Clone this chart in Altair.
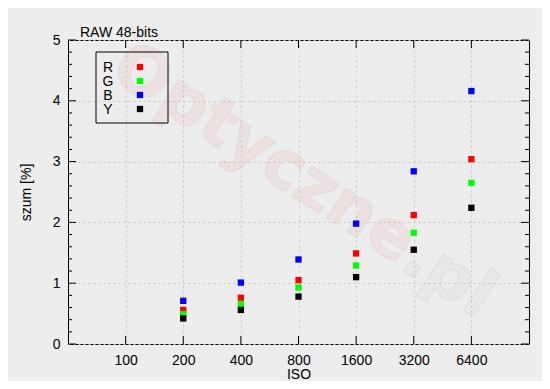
import altair as alt
import pandas as pd

# ---- data ----
iso = [200, 400, 800, 1600, 3200, 6400]
r_vals = [0.56, 0.76, 1.05, 1.49, 2.12, 3.04]
g_vals = [0.49, 0.66, 0.93, 1.29, 1.83, 2.65]
b_vals = [0.71, 1.01, 1.39, 1.98, 2.84, 4.16]
y_vals = [0.42, 0.56, 0.78, 1.10, 1.55, 2.24]
series = ["R", "G", "B", "Y"]
colors = ["#ff0000", "#00ff00", "#0000ff", "#000000"]
iso_ticks = [100, 200, 400, 800, 1600, 3200, 6400]
y_major = [0, 1, 2, 3, 4, 5]
y_minor = [0.2, 0.4, 0.6, 0.8, 1.2, 1.4, 1.6, 1.8, 2.2, 2.4, 2.6, 2.8,
           3.2, 3.4, 3.6, 3.8, 4.2, 4.4, 4.6, 4.8]
watermark = ["Optyczne", ".pl"]
title_text = ["RAW 48-bits"]

W, H = 461, 304
FONT = "Liberation Sans"

rows = []
for name, vals in zip(series, [r_vals, g_vals, b_vals, y_vals]):
    for i, v in zip(iso, vals):
        rows.append({"series": name, "iso": i, "v": v})
df = pd.DataFrame(rows)
df_ymaj = pd.DataFrame({"v": y_major})
df_ymin = pd.DataFrame({"v": y_minor})
df_x = pd.DataFrame({"iso": iso_ticks})
df_wm = pd.DataFrame({"t": watermark})
df_leg = pd.DataFrame({"series": series})
df_one = pd.DataFrame({"k": [0]})
df_title = pd.DataFrame({"t": title_text})

x_scale = alt.Scale(type="log", base=2, domain=[50, 12800])
y_scale = alt.Scale(domain=[0, 5], nice=False, zero=True)
color_scale = alt.Scale(domain=series, range=colors)

x_axis = alt.Axis(values=iso_ticks, title="ISO", format="d",
                  grid=True, ticks=False, domain=False,
                  labelOverlap=False, labelFlush=False,
                  labelPadding=9, titlePadding=0)
y_axis = alt.Axis(values=y_major, title="szum [%]", grid=True,
                  ticks=False, domain=False, labelPadding=8,
                  titlePadding=19)

# watermark
WM_FONT = "DejaVu Sans"
wm1 = alt.Chart(df_wm).transform_filter(alt.datum.t == watermark[0]).mark_text(
    angle=33, font=WM_FONT, fontWeight="bold", fontSize=66, align="center",
    baseline="middle", fill="#ff0000", fillOpacity=0.05,
    stroke="#000000", strokeOpacity=0.035, strokeWidth=1.5, clip=True
).encode(text="t:N", x=alt.value(196), y=alt.value(114))
wm2 = alt.Chart(df_wm).transform_filter(alt.datum.t == watermark[1]).mark_text(
    angle=33, font=WM_FONT, fontWeight="bold", fontSize=66, align="center",
    baseline="middle", fill="#000000", fillOpacity=0.02,
    stroke="#000000", strokeOpacity=0.045, strokeWidth=1.5, clip=True
).encode(text="t:N", x=alt.value(381), y=alt.value(237))

points = alt.Chart(df).mark_square(size=40, opacity=1).encode(
    x=alt.X("iso:Q", scale=x_scale, axis=x_axis),
    y=alt.Y("v:Q", scale=y_scale, axis=y_axis),
    color=alt.Color("series:N", scale=color_scale, legend=None),
)

# manual legend (labels left of symbols, as in the reference)
leg_off = alt.YOffset("series:N", scale=alt.Scale(type="point", domain=series,
                                                  range=[0, 42], padding=0))
leg_box = alt.Chart(df_one).mark_rect(fill=None, stroke="#000000", strokeWidth=1).encode(
    x=alt.value(28), x2=alt.value(100), y=alt.value(12), y2=alt.value(83))
leg_sym = alt.Chart(df_leg).mark_square(size=40, opacity=1).encode(
    x=alt.value(72), y=alt.value(27), yOffset=leg_off,
    color=alt.Color("series:N", scale=color_scale, legend=None))
leg_txt = alt.Chart(df_leg).mark_text(fontSize=14, font=FONT, align="center",
                                      baseline="middle", color="#000000").encode(
    x=alt.value(40), y=alt.value(28), yOffset=leg_off, text="series:N")

title = alt.Chart(df_title).mark_text(fontSize=14, font=FONT, align="left",
                                      baseline="alphabetic", color="#000000").encode(
    x=alt.value(12), y=alt.value(-3), text="t:N")

tick_style = dict(color="#000000", strokeWidth=1)
left_maj = alt.Chart(df_ymaj).mark_rule(**tick_style).encode(
    y=alt.Y("v:Q", scale=y_scale, axis=y_axis), x=alt.value(0), x2=alt.value(8))
right_maj = alt.Chart(df_ymaj).mark_rule(**tick_style).encode(
    y=alt.Y("v:Q", scale=y_scale, axis=y_axis), x=alt.value(W - 8), x2=alt.value(W))
left_min = alt.Chart(df_ymin).mark_rule(**tick_style).encode(
    y=alt.Y("v:Q", scale=y_scale, axis=y_axis), x=alt.value(0), x2=alt.value(4))
right_min = alt.Chart(df_ymin).mark_rule(**tick_style).encode(
    y=alt.Y("v:Q", scale=y_scale, axis=y_axis), x=alt.value(W - 4), x2=alt.value(W))
bot_x = alt.Chart(df_x).mark_rule(**tick_style).encode(
    x=alt.X("iso:Q", scale=x_scale, axis=x_axis), y=alt.value(H - 8), y2=alt.value(H))
top_x = alt.Chart(df_x).mark_rule(**tick_style).encode(
    x=alt.X("iso:Q", scale=x_scale, axis=x_axis), y=alt.value(0), y2=alt.value(8))

chart = alt.layer(
    wm1, wm2, points, left_maj, right_maj, left_min, right_min, bot_x, top_x,
    leg_box, leg_sym, leg_txt, title
).properties(
    width=W, height=H,
    autosize=alt.AutoSizeParams(type="none"),
    padding={"left": 60, "top": 32, "right": 13, "bottom": 37},
).configure(
    background="#ededed",
    font=FONT,
).configure_view(
    stroke="#000000", strokeWidth=1, fill="#ededed"
).configure_axis(
    labelFont=FONT, titleFont=FONT, labelFontSize=14, titleFontSize=14,
    labelColor="#000000", titleColor="#000000", titleFontWeight="normal",
    gridColor="#c4c4c4", gridDash=[2, 3], gridWidth=1,
)

chart.save("out.html", embed_options={"renderer": "svg", "actions": False})
